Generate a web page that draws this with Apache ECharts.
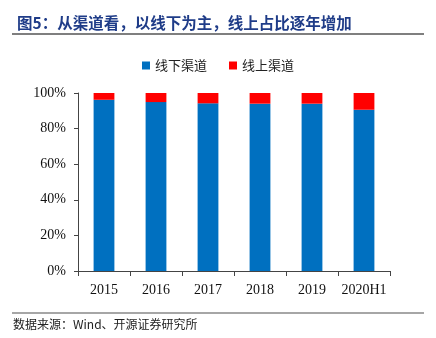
<!DOCTYPE html>
<html><head><meta charset="utf-8">
<script src="https://cdn.jsdelivr.net/npm/echarts@6/dist/echarts.min.js"></script>
<style>html,body{margin:0;padding:0;background:#fff}#c{width:436px;height:338px}</style>
</head><body><div id="c"></div>
<script>
const categories = ['2015','2016','2017','2018','2019','2020H1'];
const offlineShare = [96.2, 94.9, 94.2, 94.0, 94.0, 90.6];
const onlineShare = [3.8, 5.1, 5.8, 6.0, 6.0, 9.4];
const yTicks = [0, 20, 40, 60, 80, 100];

const chart = echarts.init(document.getElementById('c'));
const serif = '"Liberation Serif","Times New Roman",serif';
const cjk = '"Noto Sans CJK SC",sans-serif';
chart.setOption({
  animation: false,
  title: {
    text: '图5：从渠道看，以线下为主，线上占比逐年增加',
    left: 12, top: 10,
    textStyle: {color: '#1F3C88', fontSize: 15.5, fontWeight: 'bold', fontFamily: cjk}
  },
  graphic: [
    {type: 'line', shape: {x1: 12, y1: 34, x2: 424, y2: 34}, style: {stroke: '#555', lineWidth: 1.5}},
    {type: 'line', shape: {x1: 12, y1: 313, x2: 424, y2: 313}, style: {stroke: '#888', lineWidth: 1.5}},
    {type: 'text', left: 13, top: 318, style: {text: '数据来源：Wind、开源证券研究所', fill: '#222', font: '12px ' + cjk}}
  ],
  legend: {
    top: 54, left: 'center',
    itemWidth: 8, itemHeight: 8, itemGap: 22,
    icon: 'rect',
    textStyle: {fontSize: 13, color: '#222', fontFamily: cjk},
    data: ['线下渠道', '线上渠道']
  },
  grid: {left: 78, right: 46, top: 93, bottom: 67},
  xAxis: {
    type: 'category', data: categories,
    axisLine: {lineStyle: {color: '#444'}},
    axisTick: {show: true, length: 5, lineStyle: {color: '#444'}},
    axisLabel: {interval: 0, fontFamily: serif, fontSize: 14, color: '#111', margin: 12}
  },
  yAxis: {
    type: 'value', min: yTicks[0], max: yTicks[yTicks.length-1], interval: 20,
    axisLine: {show: true, lineStyle: {color: '#444'}},
    axisTick: {show: true, length: 4, lineStyle: {color: '#444'}},
    splitLine: {show: false},
    axisLabel: {fontFamily: serif, fontSize: 14, color: '#111', margin: 12, formatter: '{value}%'}
  },
  series: [
    {name: '线下渠道', type: 'bar', stack: 's', data: offlineShare, barWidth: '40%', itemStyle: {color: '#0070C0'}},
    {name: '线上渠道', type: 'bar', stack: 's', data: onlineShare, barWidth: '40%', itemStyle: {color: '#FF0000'}}
  ]
});
</script></body></html>
